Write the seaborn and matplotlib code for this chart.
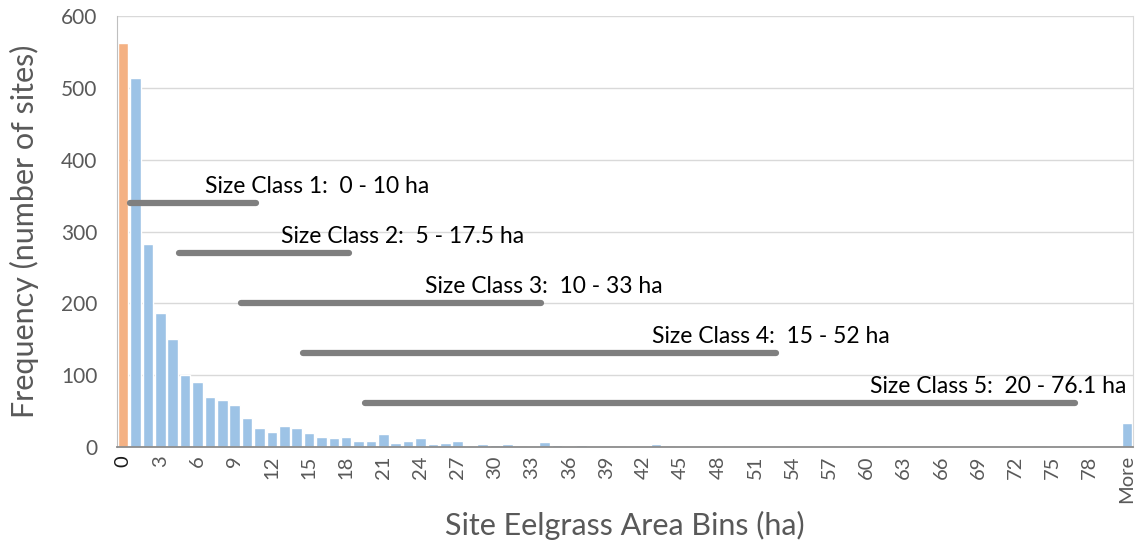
import numpy as np
import pandas as pd
import matplotlib.pyplot as plt
import seaborn as sns

# Frequency of sites per 1-ha eelgrass area bin (0..80) plus the overflow bin
bins = [str(i) for i in range(81)] + ['More']
counts = [563, 514, 283, 186, 151, 100, 91, 69, 66, 59,
          41, 27, 21, 29, 26, 19, 14, 13, 14, 8,
          8, 18, 6, 9, 12, 4, 6, 8, 2, 4,
          3, 4, 0, 1, 7, 3, 2, 3, 2, 0,
          0, 1, 2, 4, 0, 2, 1, 1, 2, 2,
          2, 2, 1, 1, 0, 2, 1, 0, 1, 1,
          1, 0, 1, 0, 0, 0, 0, 1, 0, 0,
          0, 1, 2, 1, 0, 1, 1, 1, 1, 0,
          0, 33]

# size classes (ha) and the labels drawn over them
class_names = ['Size Class 1:  0 - 10 ha', 'Size Class 2:  5 - 17.5 ha',
               'Size Class 3:  10 - 33 ha', 'Size Class 4:  15 - 52 ha',
               'Size Class 5:  20 - 76.1 ha']
class_lo = [0, 5, 10, 15, 20]
class_hi = [10, 17.5, 33, 52, 76.1]
class_y = [340, 270, 201, 131, 61]
label_x = [6.6, 12.7, 24.4, 42.7, 60.3]

df = pd.DataFrame({'bin': bins, 'count': counts})
colors = ['#F4B183'] + ['#9DC3E6'] * (len(bins) - 1)

sns.set_style('white')
plt.rcParams['font.family'] = ['Lato', 'DejaVu Sans']

fig = plt.figure(figsize=(11.39, 5.46), dpi=100)
ax = fig.add_axes([0.1027, 0.1813, 0.892, 0.7894])

sns.barplot(data=df, x='bin', y='count', hue='bin', palette=colors,
            legend=False, width=0.85, saturation=1, ax=ax, zorder=2)

ax.set_ylim(0, 600)
ax.set_xlim(-0.5, len(bins) - 0.5)
ax.set_yticks(range(0, 601, 100))
ax.yaxis.grid(True, color='#d9d9d9', linewidth=1, zorder=0)
ax.set_axisbelow(True)

tick_pos = list(range(0, 81, 3)) + [len(bins) - 1]
ax.set_xticks(tick_pos)
ax.set_xticklabels([bins[i] for i in tick_pos], rotation=90)
ax.tick_params(axis='x', length=0, pad=6, labelsize=14.5, labelcolor='#595959')
ax.tick_params(axis='y', length=0, pad=14, labelsize=15, labelcolor='#595959')
ax.get_xticklabels()[0].set_color('#1a1a1a')

ax.spines['top'].set_visible(False)
ax.spines['right'].set_color('#d9d9d9')
ax.spines['left'].set_color('#bfbfbf')
ax.spines['bottom'].set_color('#8c8c8c')
ax.spines['bottom'].set_linewidth(1.3)

ax.set_xlabel('Site Eelgrass Area Bins (ha)', fontsize=22, color='#595959', labelpad=5)
ax.set_ylabel('Frequency (number of sites)', fontsize=22, color='#595959', labelpad=16)

for name, lo, hi, yv, tx in zip(class_names, class_lo, class_hi, class_y, label_x):
    x0 = max(lo - 0.5, 0.55)
    x1 = hi + 0.7
    ax.plot([x0, x1], [yv, yv], color='#7f7f7f', linewidth=4.5,
            solid_capstyle='round', zorder=3)
    ax.text(tx, yv + 23, name, fontsize=16.5, color='black',
            va='center', zorder=4)

fig.savefig('out.png', dpi=100)
